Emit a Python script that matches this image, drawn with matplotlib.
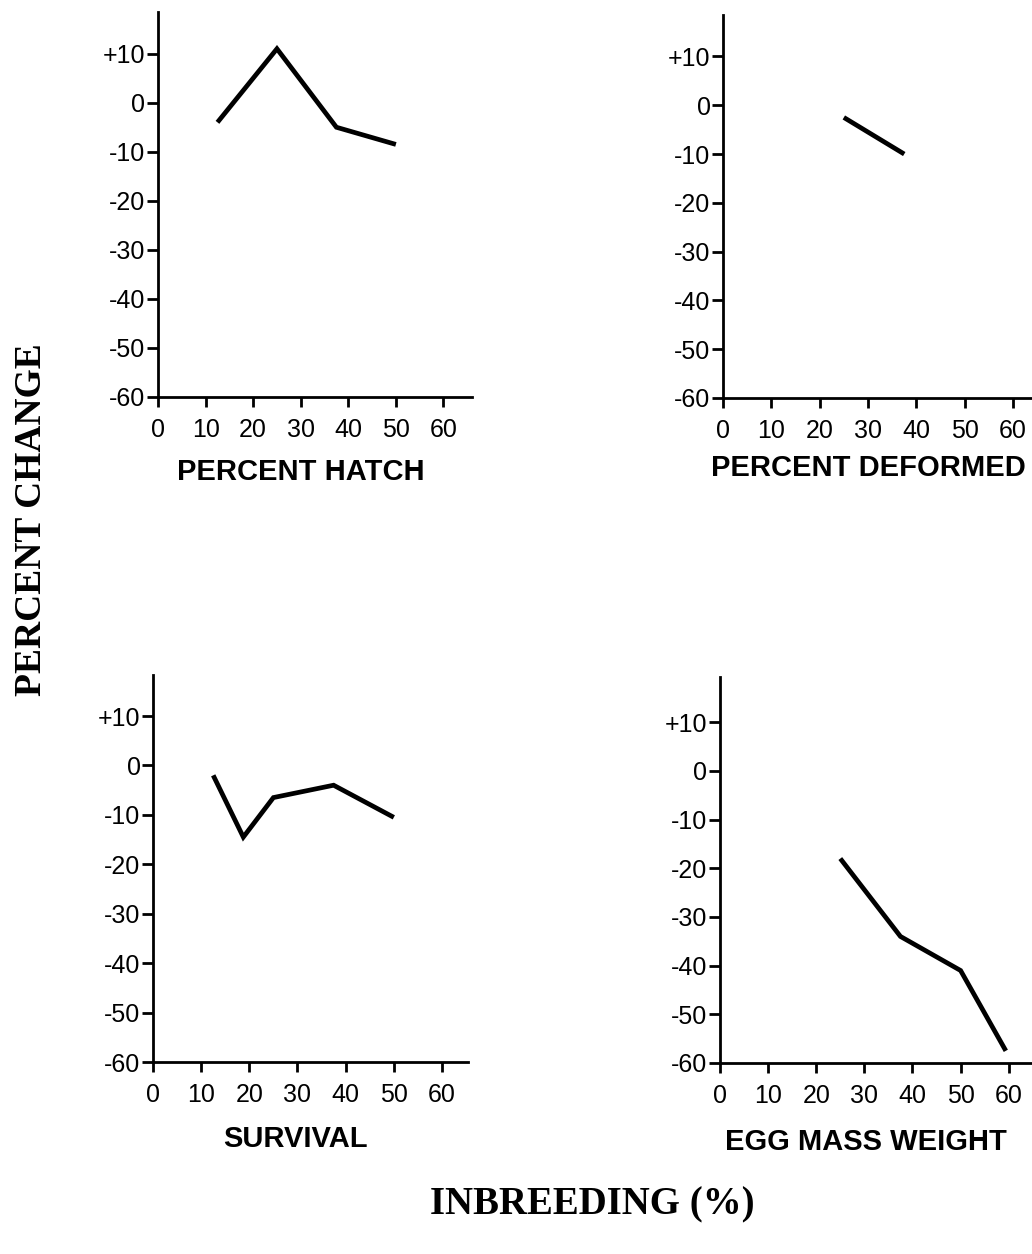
import matplotlib
matplotlib.use("Agg")
import matplotlib.pyplot as plt

# ---------------------------------------------------------------- data
inbreeding_ticks = [0, 10, 20, 30, 40, 50, 60]
change_ticks = [10, 0, -10, -20, -30, -40, -50, -60]
change_labels = ["+10", "0", "-10", "-20", "-30", "-40", "-50", "-60"]

hatch_x = [12.5, 25, 37.5, 50]
hatch_y = [-4, 11, -5, -8.5]

deformed_x = [25, 37.5]
deformed_y = [-2.5, -10]

survival_x = [12.5, 18.75, 25, 37.5, 50]
survival_y = [-2, -14.5, -6.5, -4, -10.5]

eggmass_x = [25, 37.5, 50, 59.4]
eggmass_y = [-18, -34, -41, -57.5]

W, H = 1032, 1254
fig = plt.figure(figsize=(W / 100, H / 100), dpi=100)
sans = "Liberation Sans"
serif = "Liberation Serif"


def px_axes(left, top, right, bottom):
    # axes box from pixel coords
    return fig.add_axes([left / W, 1 - bottom / H, (right - left) / W, (bottom - top) / H])


def panel(ax, x, y, xmax, ymax, label, lx, ly):
    ax.plot(x, y, color="black", lw=3.4, solid_capstyle="butt", solid_joinstyle="miter")
    ax.set_xlim(0, xmax)
    ax.set_ylim(-60, ymax)
    for s in ["top", "right"]:
        ax.spines[s].set_visible(False)
    for s in ["left", "bottom"]:
        ax.spines[s].set_linewidth(2.0)
    ax.set_xticks(inbreeding_ticks)
    ax.set_xticklabels([str(t) for t in inbreeding_ticks], fontfamily=sans, fontsize=18)
    ax.set_yticks(change_ticks)
    ax.set_yticklabels(change_labels, fontfamily=sans, fontsize=18)
    ax.tick_params(axis="x", direction="out", length=7, width=2, pad=8)
    ax.tick_params(axis="y", direction="out", length=8, width=2, pad=1)
    ax.patch.set_alpha(0)
    fig.text(lx / W, 1 - ly / H, label, fontfamily=sans, fontweight="bold",
             fontsize=21, ha="center", va="center")


ax1 = px_axes(158, 12, 472, 397)
panel(ax1, hatch_x, hatch_y, 66, 18.5, "PERCENT HATCH", 301, 472)

ax2 = px_axes(723, 15, 1042, 398)
panel(ax2, deformed_x, deformed_y, 66, 18.5, "PERCENT DEFORMED", 868, 468)

ax3 = px_axes(153, 675, 468, 1062)
panel(ax3, survival_x, survival_y, 65.4, 18.3, "SURVIVAL", 296, 1139)

ax4 = px_axes(720, 677, 1040, 1063)
panel(ax4, eggmass_x, eggmass_y, 66.5, 19.3, "EGG MASS WEIGHT", 866, 1142)

fig.text(32 / W, 1 - 520 / H, "PERCENT CHANGE", fontfamily=serif, fontweight="bold",
         fontsize=27, rotation=90, ha="center", va="center")
fig.text(592 / W, 1 - 1205 / H, "INBREEDING (%)", fontfamily=serif, fontweight="bold",
         fontsize=28, ha="center", va="center")

fig.savefig("out.png", dpi=100, facecolor="white")
